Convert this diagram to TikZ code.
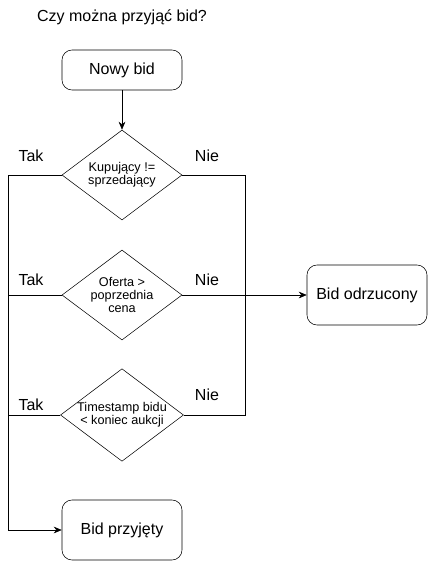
\documentclass[tikz,border=0pt]{standalone}
\usepackage{fontspec}
\setmainfont{Liberation Sans}
\usetikzlibrary{shapes.geometric,arrows.meta}
\begin{document}
\begin{tikzpicture}[x=0.75pt,y=0.75pt,yscale=-1,xscale=1,
  box/.style={draw,rounded corners=7.5pt,minimum width=90pt,minimum height=30pt,inner sep=0pt,font=\fontsize{12}{14}\selectfont},
  bigbox/.style={box,minimum height=45pt},
  cond/.style={draw,diamond,aspect=1.33,minimum width=90pt,minimum height=67.5pt,inner sep=0pt,align=center,font=\fontsize{9.5}{10}\selectfont},
  lbl/.style={inner sep=0.75pt,font=\fontsize{12}{14}\selectfont},
  arr/.style={-{Stealth[length=6pt,width=5pt]}}]
\useasboundingbox (0,0) rectangle (428,562);

% Text Node
\node [lbl] (title) at (122,17) {Czy można przyjąć bid?};
% Rounded Rect
\node [box] (nowy) at (122,70) {Nowy bid};
% Diamonds
\node [cond] (kup) at (122,175) {Kupujący !=\\sprzedający};
\node [cond] (oferta) at (122,295) {Oferta >\\poprzednia\\cena};
\node [cond] (czas) at (122,415) {Timestamp bidu\\< koniec aukcji};
% Rounded Rect
\node [bigbox] (odrzucony) at (367,295) {Bid odrzucony};
\node [bigbox] (przyjety) at (122,530) {Bid przyjęty};

% Corners
\coordinate (tak) at (8,175);
\coordinate (nie) at (245,175);
\coordinate (nie3) at (245,415);

% Straight Lines
\draw [arr] (nowy) -- (kup);
\draw [arr] (kup.west) -- (tak) |- (przyjety.west);
\draw (oferta.west) -- (oferta.west -| tak);
\draw (czas.west) -- (czas.west -| tak);
\draw (kup.east) -- (nie) -- (nie3) -- (czas.east);
\draw [arr] (oferta.east) -- (odrzucony.west);

% Text Node
\node [lbl] (tak1) at (31,156) {Tak};
\node [lbl] (tak2) at (31,280) {Tak};
\node [lbl] (tak3) at (31,405) {Tak};
\node [lbl] (nie1) at (207,156) {Nie};
\node [lbl] (nie2) at (207,280) {Nie};
\node [lbl] (nie3l) at (207,395) {Nie};
\end{tikzpicture}
\end{document}
